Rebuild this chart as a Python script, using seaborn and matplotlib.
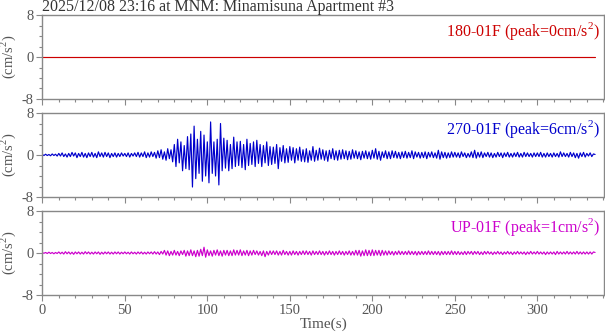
import numpy as np
import pandas as pd
import matplotlib
matplotlib.use("Agg")
import matplotlib.pyplot as plt
import seaborn as sns
from matplotlib.ticker import MultipleLocator

# ---------------- data (1 s samples, t = 0 .. 335 s) ----------------
time_s = list(range(0, 336))

acc_180 = [0.0] * 336

acc_270 = [
    0.1, -0.1, 0.15, -0.1, 0.1, -0.15, 0.2, -0.1, 0.15, -0.2,
    0.3, -0.2, 0.4, -0.3, 0.2, -0.4, 0.3, -0.3, 0.5, -0.2,
    0.4, -0.5, 0.3, -0.3, 0.5, -0.4, 0.3, -0.5, 0.4, -0.3,
    0.5, -0.4, 0.3, -0.5, 0.6, -0.3, 0.4, -0.4, 0.5, -0.3,
    0.4, -0.5, 0.3, -0.3, 0.4, -0.4, 0.3, -0.3, 0.4, -0.2,
    0.3, -0.3, 0.4, -0.4, 0.3, -0.2, 0.4, -0.3, 0.5, -0.4,
    0.4, -0.3, 0.6, -0.5, 0.4, -0.4, 0.6, -0.3, 0.5, -0.6,
    0.8, -0.5, 1.0, -0.8, 0.6, -1.0, 1.2, -0.7, 1.0, -1.3,
    2.0, -2.2, 3.0, -1.5, 2.5, -3.0, 1.8, -2.6, 3.5, -2.8,
    4.0, -6.1, 5.5, -4.5, 3.0, -3.5, 4.5, -5.0, 3.8, -4.0,
    2.5, -5.3, 6.3, -3.5, 2.5, -4.0, 3.0, -5.7, 6.0, -3.0,
    3.2, -2.5, 2.8, -3.0, 2.0, -2.6, 3.4, -2.2, 2.5, -2.0,
    2.6, -2.4, 2.0, -2.8, 3.0, -2.0, 2.2, -1.8, 2.5, -2.2,
    2.8, -1.6, 2.0, -2.2, 1.8, -1.5, 2.5, -2.0, 1.6, -1.8,
    1.5, -1.6, 2.0, -2.6, 1.4, -1.2, 1.8, -1.5, 1.2, -1.4,
    1.6, -1.0, 1.4, -1.5, 1.2, -1.0, 1.5, -1.2, 1.0, -1.3,
    1.2, -1.4, 0.8, -1.0, 1.6, -1.2, 0.9, -1.0, 1.3, -0.8,
    1.0, -1.0, 0.8, -1.2, 0.9, -0.7, 1.2, -0.9, 0.8, -1.0,
    0.9, -0.8, 1.0, -0.7, 0.8, -0.9, 0.7, -0.8, 1.0, -0.6,
    0.8, -0.7, 0.6, -0.9, 0.7, -0.6, 0.8, -0.7, 0.6, -0.8,
    0.9, -0.6, 1.2, -0.8, 0.7, -1.0, 0.6, -0.5, 0.8, -0.7,
    0.6, -0.7, 0.8, -0.5, 0.7, -0.6, 0.5, -0.7, 0.6, -0.5,
    0.7, -0.6, 0.5, -0.5, 0.8, -0.7, 0.6, -0.4, 0.5, -0.6,
    0.5, -0.5, 0.6, -0.7, 0.5, -0.4, 0.6, -0.5, 0.4, -0.6,
    0.9, -0.8, 0.6, -0.5, 0.5, -0.6, 0.4, -0.5, 0.6, -0.4,
    0.5, -0.4, 0.4, -0.5, 0.6, -0.3, 0.4, -0.5, 0.3, -0.4,
    0.6, -0.5, 0.9, -0.6, 0.5, -0.4, 0.6, -0.5, 0.4, -0.3,
    0.5, -0.4, 0.4, -0.5, 0.3, -0.4, 0.5, -0.3, 0.4, -0.5,
    0.4, -0.3, 0.5, -0.4, 0.3, -0.4, 0.4, -0.3, 0.5, -0.4,
    0.3, -0.4, 0.5, -0.3, 0.4, -0.3, 0.3, -0.4, 0.4, -0.3,
    0.4, -0.3, 0.5, -0.4, 0.3, -0.4, 0.4, -0.3, 0.3, -0.4,
    0.4, -0.3, 0.3, -0.4, 0.6, -0.3, 0.4, -0.3, 0.3, -0.4,
    0.5, -0.3, 0.4, -0.5, 0.3, -0.6, 0.4, -0.3, 0.5, -0.4,
    0.3, -0.2, 0.4, -0.3, 0.2, 0.1,
]

acc_up = [
    0.05, -0.05, 0.1, -0.1, 0.15, -0.1, 0.1, -0.15, 0.1, -0.1,
    0.2, -0.15, 0.15, -0.2, 0.25, -0.15, 0.2, -0.2, 0.15, -0.25,
    0.2, -0.15, 0.2, -0.2, 0.15, -0.2, 0.25, -0.15, 0.2, -0.2,
    0.15, -0.2, 0.2, -0.15, 0.2, -0.25, 0.15, -0.2, 0.2, -0.15,
    0.2, -0.2, 0.15, -0.2, 0.2, -0.15, 0.2, -0.2, 0.15, -0.15,
    0.2, -0.15, 0.15, -0.2, 0.2, -0.15, 0.15, -0.2, 0.2, -0.15,
    0.2, -0.2, 0.15, -0.2, 0.2, -0.15, 0.2, -0.2, 0.25, -0.2,
    0.2, -0.3, 0.3, -0.2, 0.5, -0.4, 0.4, -0.5, 0.3, -0.4,
    0.5, -0.4, 0.3, -0.5, 0.4, -0.3, 0.5, -0.6, 0.4, -0.5,
    0.6, -0.5, 0.4, -0.7, 0.5, -0.6, 0.7, -0.5, 1.1, -0.8,
    0.6, -0.5, 0.4, -0.6, 0.5, -0.4, 0.6, -0.5, 0.4, -0.6,
    0.5, -0.4, 0.5, -0.5, 0.4, -0.5, 0.6, -0.4, 0.5, -0.4,
    0.6, -0.5, 0.4, -0.4, 0.5, -0.5, 0.4, -0.4, 0.5, -0.3,
    0.4, -0.4, 0.3, -0.5, 0.4, -0.7, 0.3, -0.4, 0.4, -0.3,
    0.4, -0.3, 0.4, -0.4, 0.3, -0.4, 0.5, -0.3, 0.3, -0.4,
    0.3, -0.4, 0.4, -0.3, 0.3, -0.4, 0.3, -0.3, 0.4, -0.3,
    0.4, -0.3, 0.3, -0.4, 0.4, -0.3, 0.3, -0.3, 0.4, -0.3,
    0.3, -0.4, 0.3, -0.3, 0.4, -0.3, 0.3, -0.4, 0.3, -0.3,
    0.4, -0.3, 0.3, -0.4, 0.3, -0.3, 0.4, -0.4, 0.3, -0.4,
    0.5, -0.4, 0.5, -0.6, 0.4, -0.5, 0.6, -0.5, 0.5, -0.5,
    0.6, -0.5, 0.5, -0.4, 0.5, -0.5, 0.5, -0.4, 0.4, -0.4,
    0.4, -0.3, 0.3, -0.4, 0.3, -0.3, 0.4, -0.3, 0.3, -0.3,
    0.3, -0.3, 0.4, -0.3, 0.3, -0.3, 0.3, -0.4, 0.3, -0.3,
    0.3, -0.3, 0.3, -0.3, 0.4, -0.3, 0.3, -0.3, 0.3, -0.3,
    0.3, -0.4, 0.3, -0.3, 0.3, -0.3, 0.3, -0.3, 0.4, -0.3,
    0.3, -0.3, 0.3, -0.3, 0.2, -0.3, 0.3, -0.3, 0.3, -0.2,
    0.3, -0.3, 0.3, -0.2, 0.3, -0.3, 0.2, -0.3, 0.3, -0.2,
    0.3, -0.2, 0.2, -0.3, 0.2, -0.2, 0.3, -0.2, 0.2, -0.3,
    0.2, -0.2, 0.3, -0.2, 0.2, -0.3, 0.2, -0.2, 0.3, -0.2,
    0.2, -0.2, 0.2, -0.3, 0.2, -0.2, 0.3, -0.2, 0.2, -0.2,
    0.3, -0.2, 0.2, -0.2, 0.2, -0.3, 0.2, -0.2, 0.2, -0.2,
    0.2, -0.3, 0.3, -0.2, 0.2, -0.2, 0.2, -0.2, 0.3, -0.2,
    0.2, -0.2, 0.2, -0.2, 0.3, -0.2, 0.2, -0.2, 0.2, -0.2,
    0.2, -0.2, 0.2, -0.2, 0.2, 0.1,
]

channels = ["180-01F", "270-01F", "UP-01F"]
peaks = [0, 6, 1]
colors = ["#cc0000", "#0000cc", "#cc00cc"]
title = "2025/12/08 23:16 at MNM: Minamisuna Apartment #3"
y_label = "(cm/s$^2$)"
x_label = "Time(s)"
x_ticks = [0, 50, 100, 150, 200, 250, 300]
y_ticks = [-8, 0, 8]
y_ticklabels = ["-8", "0", "8"]

# ---------------- plotting ----------------
sns.set_theme(style="white")
plt.rcParams["font.family"] = ["Liberation Serif", "DejaVu Serif"]
plt.rcParams["mathtext.fontset"] = "custom"
plt.rcParams["mathtext.rm"] = "Liberation Serif"

GRAY = "#888888"
TXT = "#555555"

fig = plt.figure(figsize=(6.05, 3.34), dpi=100)
series = [acc_180, acc_270, acc_up]

left, width, height = 42.3 / 605, 561.7 / 605, 84 / 334
tops = [15, 113, 211]

for i, (name, pk, col, vals) in enumerate(zip(channels, peaks, colors, series)):
    bottom = 1 - (tops[i] + 84) / 334
    ax = fig.add_axes([left, bottom, width, height])
    df = pd.DataFrame({"t": time_s, "a": vals})
    sns.lineplot(data=df, x="t", y="a", ax=ax, color=col, lw=0.85,
                 estimator=None, sort=False)
    ax.set_xlim(0, 340.4)
    ax.set_ylim(-8, 8)
    ax.set_xticks(x_ticks)
    ax.xaxis.set_minor_locator(MultipleLocator(10))
    ax.set_yticks(y_ticks)
    ax.set_yticklabels(y_ticklabels)
    ax.yaxis.set_minor_locator(MultipleLocator(2))
    ax.tick_params(axis="both", which="major", direction="out", length=4.5,
                   width=0.8, color=GRAY, labelsize=10.5, labelcolor=TXT,
                   left=True, bottom=True, right=False, top=False, pad=2)
    ax.tick_params(axis="both", which="minor", direction="out", length=2.5,
                   width=0.8, color=GRAY, left=True, bottom=True,
                   right=False, top=False)
    if i < 2:
        ax.set_xticklabels([])
        ax.set_xlabel("")
    else:
        ax.set_xlabel(x_label, fontsize=11, color=TXT, labelpad=0.5)
    ax.set_ylabel(y_label, fontsize=10.5, color=TXT)
    ax.yaxis.set_label_coords(-0.043, 0.5)
    for s in ax.spines.values():
        s.set_color(GRAY)
        s.set_linewidth(1.0)
    ax.text(0.993, 0.94, f"{name} (peak={pk}cm/s$^2$)", transform=ax.transAxes,
            ha="right", va="top", fontsize=11.5, color=col)
    if i == 0:
        ax.text(0.0, 1.005, title, transform=ax.transAxes, ha="left",
                va="bottom", fontsize=11.5, color="#333333")

fig.savefig("out.png", dpi=100)
